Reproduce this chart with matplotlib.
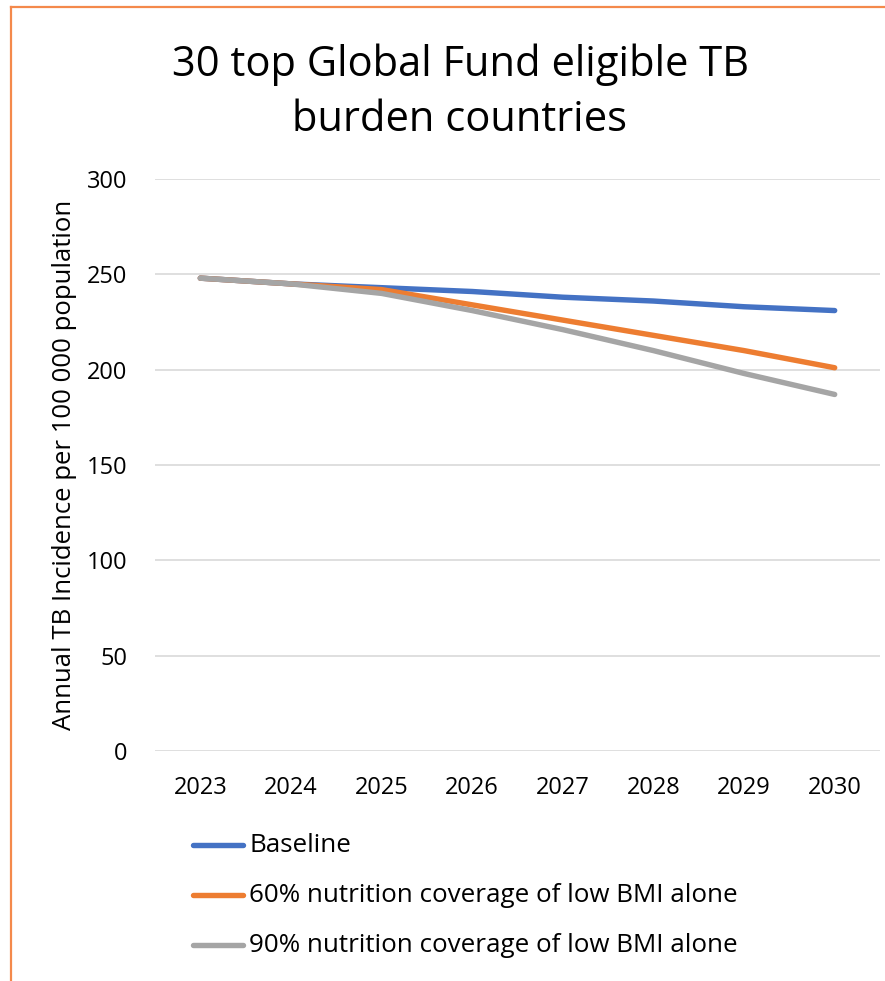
import matplotlib
matplotlib.use("Agg")
import matplotlib.pyplot as plt
from matplotlib.lines import Line2D

years = ["2023", "2024", "2025", "2026", "2027", "2028", "2029", "2030"]
baseline = [248, 245, 243, 241, 238, 236, 233, 231]
cov60 = [248, 245, 242, 234, 226, 218, 210, 201]
cov90 = [248, 245, 240, 231, 221, 210, 198, 187]
labels = ["Baseline",
          "60% nutrition coverage of low BMI alone",
          "90% nutrition coverage of low BMI alone"]
colors = ["#4472C4", "#ED7D31", "#A5A5A5"]

plt.rcParams["font.family"] = ["Open Sans", "DejaVu Sans"]

W, H = 885, 981
fig = plt.figure(figsize=(W / 100, H / 100), dpi=100)
ax = fig.add_axes([155 / W, (H - 751) / H, (880 - 155) / W, (751 - 179) / H])

x = range(len(years))
for vals, c in zip([baseline, cov60, cov90], colors):
    ax.plot(x, vals, color=c, lw=3.9, solid_capstyle="round", solid_joinstyle="round")

ax.set_xlim(-0.5, len(years) - 0.5)
ax.set_ylim(0, 300)
ax.set_yticks(range(0, 301, 50))
ax.set_xticks(list(x))
ax.set_xticklabels(years)
ax.grid(axis="y", color="#D9D9D9", lw=1.2)
ax.set_axisbelow(True)
for s in ax.spines.values():
    s.set_visible(False)
ax.tick_params(length=0, labelsize=17, colors="black")
ax.tick_params(axis="x", pad=18)
ax.tick_params(axis="y", pad=20)
ax.set_ylabel("Annual TB Incidence per 100 000 population", fontsize=18.5, labelpad=7)

fig.text(460 / W, 1 - 92 / H, "30 top Global Fund eligible TB\nburden countries",
         ha="center", va="center", fontsize=30, linespacing=1.4)

# legend drawn by hand below the plot
for i, (lab, c) in enumerate(zip(labels, colors)):
    yy = 1 - (845 + 50 * i) / H
    fig.add_artist(Line2D([193 / W, 243 / W], [yy, yy], color=c, lw=3.9,
                          solid_capstyle="round"))
    fig.text(249 / W, yy, lab, ha="left", va="center", fontsize=18.7)

# orange chart frame (cropped at right and bottom)
fig.add_artist(Line2D([10.5 / W, 10.5 / W], [0, 1 - 7 / H], color="#F4894B", lw=1.6))
fig.add_artist(Line2D([10.5 / W, 1], [1 - 7 / H, 1 - 7 / H], color="#F4894B", lw=1.6))

fig.savefig("out.png", dpi=100)
